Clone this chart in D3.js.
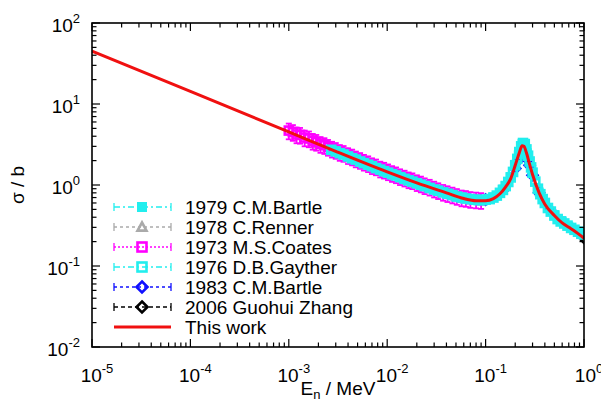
<!DOCTYPE html>
<html><head><meta charset="utf-8">
<script src="https://cdn.jsdelivr.net/npm/d3@7"></script>
<style>body{margin:0;background:#fff}svg{display:block}text{font-family:"Liberation Sans",Arial,sans-serif;fill:#000}</style>
</head><body><svg id="c" width="601" height="403"></svg>
<script>
// ---- data (E in MeV, sigma in b) ----
const thisWork = [[1e-5,45],[1e-4,14.3],[1e-3,4.52],[3e-3,2.6],[1e-2,1.45],[2e-2,1.06],[4e-2,0.8],[6e-2,0.68],[8e-2,0.64],[0.1,0.64],[0.12,0.68],[0.14,0.78],[0.16,0.95],[0.18,1.2],[0.2,1.75],[0.22,2.5],[0.235,3.05],[0.245,3.0],[0.26,2.5],[0.28,1.8],[0.3,1.35],[0.35,0.8],[0.4,0.58],[0.5,0.42],[0.6,0.34],[0.7,0.3],[0.8,0.27],[1.0,0.22]];
const coates1973 = [[1.0e-3,4.7],[1.1e-3,4.5],[1.2e-3,4.2],[1.3e-3,4.15],[1.45e-3,3.85],[1.6e-3,3.75],[1.75e-3,3.5],[1.9e-3,3.4],[2.1e-3,3.2],[2.3e-3,3.1],[2.5e-3,2.95],[2.75e-3,2.8],[3.0e-3,2.7],[3.3e-3,2.55],[3.6e-3,2.48],[4.0e-3,2.33],[4.4e-3,2.24],[4.8e-3,2.12],[5.3e-3,2.03],[5.8e-3,1.93],[6.4e-3,1.85],[7.0e-3,1.75],[7.7e-3,1.69],[8.5e-3,1.59],[9.3e-3,1.54],[1.02e-2,1.47],[1.12e-2,1.40],[1.23e-2,1.35],[1.35e-2,1.28],[1.5e-2,1.23],[1.65e-2,1.17],[1.8e-2,1.14],[2.0e-2,1.08],[2.2e-2,1.04],[2.4e-2,0.99],[2.7e-2,0.95],[3.0e-2,0.90],[3.3e-2,0.86],[3.7e-2,0.82],[4.1e-2,0.79],[4.6e-2,0.76],[5.1e-2,0.73],[5.7e-2,0.70],[6.3e-2,0.69],[7.0e-2,0.67],[8.0e-2,0.66],[9.0e-2,0.65]];
const gayther1976 = [[2.7e-3,2.72],[3.0e-3,2.6],[3.3e-3,2.47],[3.6e-3,2.38],[4.0e-3,2.25],[4.4e-3,2.14],[4.8e-3,2.06],[5.3e-3,1.95],[5.8e-3,1.86],[6.4e-3,1.78],[7.0e-3,1.71],[7.7e-3,1.62],[8.5e-3,1.55],[9.3e-3,1.48],[1.02e-2,1.42],[1.12e-2,1.36],[1.23e-2,1.31],[1.35e-2,1.25],[1.5e-2,1.19],[1.65e-2,1.14],[1.8e-2,1.10],[2.0e-2,1.05],[2.2e-2,1.01],[2.4e-2,0.97],[2.7e-2,0.92],[3.0e-2,0.88],[3.3e-2,0.85],[3.7e-2,0.81],[4.1e-2,0.78],[4.6e-2,0.75],[5.1e-2,0.72],[5.7e-2,0.70],[6.3e-2,0.68],[7.0e-2,0.67],[7.7e-2,0.66],[8.5e-2,0.65],[9.3e-2,0.65],[0.10,0.66],[0.11,0.67],[0.12,0.70],[0.13,0.74],[0.14,0.80],[0.15,0.87],[0.16,0.97],[0.17,1.09],[0.18,1.24],[0.19,1.45],[0.20,1.75],[0.21,2.1],[0.22,2.55],[0.23,3.0],[0.24,3.3],[0.25,3.2],[0.26,2.75],[0.27,2.3],[0.28,1.95],[0.29,1.65],[0.30,1.42],[0.32,1.1],[0.34,0.9],[0.36,0.77],[0.38,0.67],[0.40,0.6],[0.43,0.52],[0.46,0.47],[0.50,0.42],[0.54,0.38],[0.58,0.355],[0.63,0.335],[0.68,0.315],[0.74,0.295],[0.80,0.28],[0.87,0.265],[0.94,0.25],[1.0,0.245]];
const bartle1979 = [[1.1e-2,1.38],[1.4e-2,1.24],[1.9e-2,1.08],[2.5e-2,0.96],[3.2e-2,0.86],[4.3e-2,0.77],[5.5e-2,0.71],[7.3e-2,0.66],[0.12,0.71],[0.15,0.89],[0.18,1.27],[0.2,1.8],[0.215,2.35],[0.235,3.25],[0.25,3.1],[0.265,2.5],[0.3,1.38],[0.35,0.82],[0.4,0.6],[0.5,0.43],[0.6,0.36],[0.7,0.31],[0.8,0.28],[0.9,0.26]];
const renner1978 = [[2e-3,3.2],[5e-3,2.0],[1e-2,1.45],[2e-2,1.05],[5e-2,0.73]];
const bartle1983 = [[0.1,0.66],[0.15,0.86],[0.2,1.6],[0.22,2.1],[0.24,2.35],[0.26,2.15],[0.28,1.75],[0.3,1.32],[0.35,0.8],[0.45,0.49]];
const zhang2006 = [[1.05,0.21],[1.54,0.16],[2.0,0.13]];
const relErr = {bartle1979:0.05, renner1978:0.05, coates1973:0.22, gayther1976:0.06, bartle1983:0.04, zhang2006:0.05};
const xTicks = [1e-5,1e-4,1e-3,1e-2,1e-1,1];
const yTicks = [1e-2,1e-1,1,10,100];
const legendLabels = ["1979 C.M.Bartle","1978 C.Renner","1973 M.S.Coates","1976 D.B.Gayther","1983 C.M.Bartle","2006 Guohui Zhang","This work"];

// ---- drawing ----
const svg = d3.select("#c");
const L=92,R=584,T=23,B=347;
const x = d3.scaleLog().domain([1e-5,1]).range([L,R]);
const y = d3.scaleLog().domain([1e-2,1e2]).range([B,T]);

svg.append("clipPath").attr("id","pc").append("rect").attr("x",L).attr("y",T).attr("width",R-L).attr("height",B-T);
const plot = svg.append("g").attr("clip-path","url(#pc)");

const styles = {
  bartle1979:{c:"#22eeee",shape:"square",fill:true,dash:"6,3,2,3"},
  renner1978:{c:"#aaaaaa",shape:"triangle",fill:false,dash:"3,3"},
  coates1973:{c:"#ff00ff",shape:"square",fill:false,dash:"2,2"},
  gayther1976:{c:"#22eeee",shape:"square",fill:false,dash:"6,3,2,3"},
  bartle1983:{c:"#1010ff",shape:"diamond",fill:false,dash:"3,3"},
  zhang2006:{c:"#000000",shape:"diamond",fill:false,dash:"4,3"}
};
function marker(g, s, cx, cy, size){
  const h=size/2;
  let el;
  if(s.shape==="square") el=g.append("rect").attr("x",cx-h).attr("y",cy-h).attr("width",size).attr("height",size);
  else if(s.shape==="diamond") el=g.append("path").attr("d",`M${cx},${cy-h-1}L${cx+h+1},${cy}L${cx},${cy+h+1}L${cx-h-1},${cy}Z`);
  else el=g.append("path").attr("d",`M${cx},${cy-h}L${cx+h},${cy+h*0.8}L${cx-h},${cy+h*0.8}Z`);
  el.attr("fill",s.fill?s.c:"none").attr("stroke",s.c).attr("stroke-width",s.fill?1:2.6);
}
function drawSeries(name, data){
  const s=styles[name], e=relErr[name];
  const g=plot.append("g");
  data.forEach(([E,v])=>{
    const cx=x(E), y1=y(v*(1+e)), y0=y(v*(1-e));
    g.append("line").attr("x1",cx).attr("x2",cx).attr("y1",y1).attr("y2",y0).attr("stroke",s.c).attr("stroke-width",1.8);
    g.append("line").attr("x1",cx-3).attr("x2",cx+3).attr("y1",y1).attr("y2",y1).attr("stroke",s.c).attr("stroke-width",1.8);
    g.append("line").attr("x1",cx-3).attr("x2",cx+3).attr("y1",y0).attr("y2",y0).attr("stroke",s.c).attr("stroke-width",1.8);
    marker(g,s,cx,y(v),8);
  });
}
drawSeries("renner1978",renner1978);
drawSeries("zhang2006",zhang2006);
drawSeries("bartle1983",bartle1983);
drawSeries("coates1973",coates1973);
drawSeries("gayther1976",gayther1976);
drawSeries("bartle1979",bartle1979);

const line = d3.line().x(d=>x(d[0])).y(d=>y(d[1])).curve(d3.curveMonotoneX);
plot.append("path").datum(thisWork).attr("d",line).attr("fill","none").attr("stroke","#f01010").attr("stroke-width",3);

// frame & ticks
const ax = svg.append("g").attr("stroke","#000").attr("stroke-width",1.2);
ax.append("rect").attr("x",L).attr("y",T).attr("width",R-L).attr("height",B-T).attr("fill","none").attr("stroke-width",1.6);
x.ticks().forEach(t=>{
  const major = Math.abs(Math.log10(t)-Math.round(Math.log10(t)))<1e-9;
  const len = major?8:4.5, px=x(t);
  ax.append("line").attr("x1",px).attr("x2",px).attr("y1",B).attr("y2",B-len);
  ax.append("line").attr("x1",px).attr("x2",px).attr("y1",T).attr("y2",T+len);
});
y.ticks().forEach(t=>{
  const major = Math.abs(Math.log10(t)-Math.round(Math.log10(t)))<1e-9;
  const len = major?8:4.5, py=y(t);
  ax.append("line").attr("x1",L).attr("x2",L+len).attr("y1",py).attr("y2",py);
  ax.append("line").attr("x1",R).attr("x2",R-len).attr("y1",py).attr("y2",py);
});
function pow10(g, t, px, py, anchor){
  const tx=g.append("text").attr("x",px).attr("y",py).attr("text-anchor",anchor).attr("font-size",19);
  tx.append("tspan").text("10");
  tx.append("tspan").attr("dy",-9).attr("font-size",13).text(String(Math.round(Math.log10(t))));
}
xTicks.forEach(t=>pow10(svg,t,x(t)+5,382,"middle"));
yTicks.forEach(t=>pow10(svg,t,80,y(t)+9,"end"));

svg.append("text").attr("x",338).attr("y",395).attr("text-anchor","middle").attr("font-size",19)
  .html('E<tspan font-size="13" dy="4">n</tspan><tspan dy="-4"> / MeV</tspan>');
svg.append("text").attr("transform","translate(24,185) rotate(-90)").attr("text-anchor","middle").attr("font-size",19).text("σ / b");

// legend
const legKeys = ["bartle1979","renner1978","coates1973","gayther1976","bartle1983","zhang2006"];
const leg = svg.append("g");
legendLabels.forEach((lab,i)=>{
  const ly = 207 + i*20;
  if(i<legKeys.length){
    const s=styles[legKeys[i]];
    leg.append("line").attr("x1",114).attr("x2",171).attr("y1",ly).attr("y2",ly).attr("stroke",s.c).attr("stroke-width",1.3).attr("stroke-dasharray",s.dash);
    [114,171].forEach(ex=>leg.append("line").attr("x1",ex).attr("x2",ex).attr("y1",ly-4).attr("y2",ly+4).attr("stroke",s.c).attr("stroke-width",1.3));
    marker(leg,s,142,ly,9);
  } else {
    leg.append("line").attr("x1",114).attr("x2",171).attr("y1",ly).attr("y2",ly).attr("stroke","#f01010").attr("stroke-width",3);
  }
  leg.append("text").attr("x",185).attr("y",ly+7).attr("font-size",19).text(lab);
});
</script></body></html>
